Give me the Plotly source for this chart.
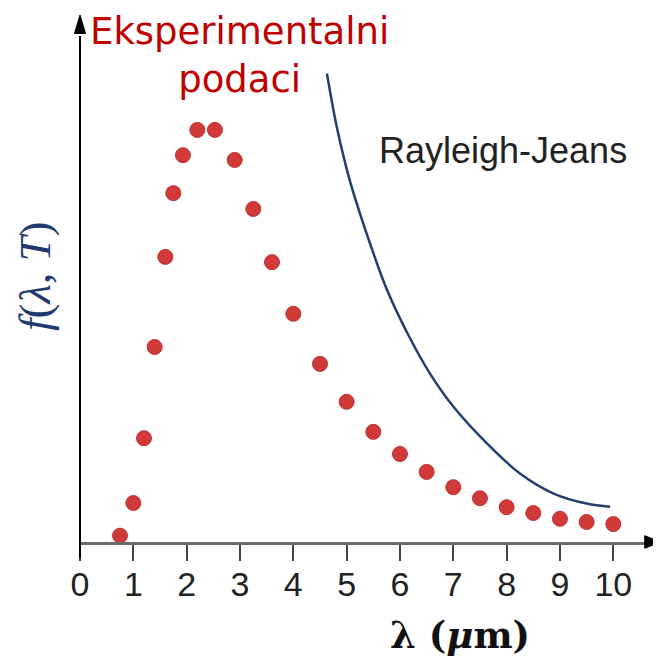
import plotly.graph_objects as go

# experimental data points (wavelength in um, intensity in arbitrary units)
exp_lambda = [0.75, 1.0, 1.2, 1.4, 1.6, 1.75, 1.93, 2.2, 2.53, 2.9, 3.25, 3.6, 4.0,
              4.5, 5.0, 5.5, 6.0, 6.5, 7.0, 7.5, 8.0, 8.5, 9.0, 9.5, 10.0]
exp_f = [1.2, 7.4, 19.7, 37.0, 54.1, 66.2, 73.4, 78.2, 78.2, 72.5, 63.2, 53.1, 43.3,
         33.8, 26.6, 20.9, 16.7, 13.3, 10.4, 8.3, 6.6, 5.5, 4.4, 3.8, 3.4]

# Rayleigh-Jeans curve
rj_lambda = [4.63, 4.81, 5.0, 5.12, 5.44, 5.75, 6.13, 6.56, 7.0, 7.63, 8.25, 8.88, 9.5, 9.94]
rj_f = [88.9, 79.0, 70.8, 66.5, 56.6, 48.0, 39.8, 32.0, 25.7, 18.7, 13.0, 9.2, 7.3, 6.7]

tick_vals = list(range(0, 11))
tick_text = [str(v) for v in tick_vals]

fig = go.Figure()

# Rayleigh-Jeans line
fig.add_trace(go.Scatter(
    x=rj_lambda, y=rj_f, mode="lines",
    line=dict(color="#233f6e", width=2.5, shape="spline", smoothing=1.0),
    hoverinfo="skip", cliponaxis=False,
))

# experimental dots
fig.add_trace(go.Scatter(
    x=exp_lambda, y=exp_f, mode="markers",
    marker=dict(color="#d23a3a", size=15, line=dict(color="#b83232", width=1)),
    cliponaxis=False,
))

# the page body has an 8px margin, so margins are shifted by 8px
fig.update_layout(
    width=661, height=661,
    margin=dict(l=72, r=8, t=7, b=127),
    paper_bgcolor="white", plot_bgcolor="white",
    showlegend=False,
    font=dict(family="Liberation Sans, Arial", color="#222222"),
    xaxis=dict(
        range=[0, 581 / 53.33], showgrid=False, zeroline=False,
        showline=True, linecolor="#6a6a6a", linewidth=3,
        ticks="outside", ticklen=16, tickwidth=2, tickcolor="#444444",
        tickvals=tick_vals, ticktext=tick_text,
        tickfont=dict(size=34, color="#222222"),
        ticklabelstandoff=-6,
    ),
    yaxis=dict(
        range=[0, 100], showgrid=False, zeroline=False,
        showline=False, showticklabels=False, ticks="",
    ),
    shapes=[
        # y axis line (extends slightly below the x axis)
        dict(type="line", xref="paper", yref="paper", x0=0, x1=0, y0=-0.031, y1=0.96,
             line=dict(color="black", width=2)),
        # y axis arrow head
        dict(type="path", xref="paper", yref="paper",
             path="M -0.0095,0.965 L 0.0095,0.965 L 0,1.0 Z",
             fillcolor="black", line=dict(color="black", width=1)),
        # x axis arrow head
        dict(type="path", xref="paper", yref="paper",
             path="M 0.972,0.012 L 0.972,-0.012 L 0.999,0 Z",
             fillcolor="black", line=dict(color="black", width=1)),
    ],
    annotations=[
        dict(text="Eksperimentalni<br>podaci", xref="paper", yref="paper",
             x=(240 - 80) / 581, y=(542 - 55) / 527, showarrow=False,
             font=dict(family="DejaVu Sans", size=37, color="#c00000"),
             xanchor="center", yanchor="middle", align="center"),
        dict(text="Rayleigh-Jeans", xref="paper", yref="paper",
             x=(503 - 80) / 581, y=(542 - 150) / 527, showarrow=False,
             font=dict(family="Liberation Sans", size=36, color="#222222"),
             xanchor="center", yanchor="middle"),
        dict(text="<i>f</i>(<i>λ</i>, <i>T</i>)", xref="paper", yref="paper",
             x=(35 - 80) / 581, y=(542 - 276) / 527, showarrow=False, textangle=-90,
             font=dict(family="Liberation Serif", size=45, color="#1f3a70"),
             xanchor="center", yanchor="middle"),
        dict(text="<b>λ (<i>μ</i>m)</b>", xref="paper", yref="paper",
             x=(460 - 80) / 581, y=(542 - 635) / 527, showarrow=False,
             font=dict(family="DejaVu Serif", size=37, color="#111111"),
             xanchor="center", yanchor="middle"),
    ],
)

fig.write_html("out.html")
